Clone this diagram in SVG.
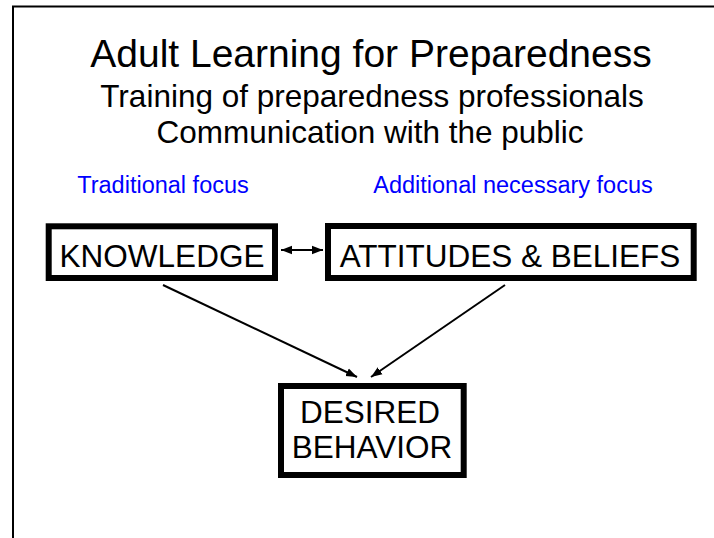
<svg xmlns="http://www.w3.org/2000/svg" width="714" height="538" viewBox="0 0 714 538">
<style>
text{font-family:"Liberation Sans",Arial,sans-serif;fill:#000}
.t{font-size:39px}
.s{font-size:31.5px}
.b{font-size:23.5px;fill:#0000ff}
.n{font-size:31.5px}
.box{fill:#fff;stroke:#000;stroke-width:6}
.c{stroke:#000;stroke-width:2;fill:none}
</style>
<defs>
<marker id="ah" viewBox="0 0 10 10" refX="10" refY="5" markerWidth="5.5" markerHeight="5.5" orient="auto-start-reverse" markerUnits="strokeWidth">
<path d="M0,1.2 L10,5 L0,8.8 z" fill="#000"/>
</marker>
</defs>
<rect width="714" height="538" fill="#fff"/>
<path d="M13,538 V6.5 H714" fill="none" stroke="#000" stroke-width="2"/>
<g id="title">
<text class="t" x="371" y="67" text-anchor="middle">Adult Learning for Preparedness</text>
<text class="s" x="372" y="107" text-anchor="middle">Training of preparedness professionals</text>
<text class="s" x="370" y="143" text-anchor="middle">Communication with the public</text>
</g>
<g id="labels">
<text class="b" x="163" y="193" text-anchor="middle">Traditional focus</text>
<text class="b" x="513" y="193" text-anchor="middle">Additional necessary focus</text>
</g>
<g id="connectors">
<line class="c" x1="281" y1="250" x2="323" y2="250" marker-start="url(#ah)" marker-end="url(#ah)"/>
<line class="c" x1="163" y1="285" x2="357" y2="377" marker-end="url(#ah)"/>
<line class="c" x1="505" y1="285" x2="371" y2="377" marker-end="url(#ah)"/>
</g>
<g id="knowledge">
<rect class="box" x="48.7" y="226.3" width="226.3" height="51.7"/>
<text class="n" x="162" y="267" text-anchor="middle">KNOWLEDGE</text>
</g>
<g id="attitudes">
<rect class="box" x="328" y="226" width="365.7" height="52"/>
<text class="n" x="510" y="267" text-anchor="middle">ATTITUDES &amp; BELIEFS</text>
</g>
<g id="behavior">
<rect class="box" x="281" y="386" width="182.7" height="89"/>
<text class="n" x="370" y="423" text-anchor="middle">DESIRED</text>
<text class="n" x="372" y="458" text-anchor="middle">BEHAVIOR</text>
</g>
</svg>
